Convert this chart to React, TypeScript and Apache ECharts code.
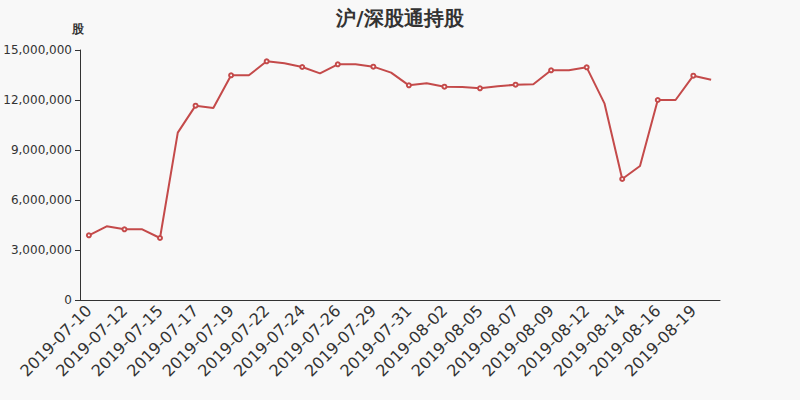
import React, { useEffect, useRef } from "react";
import * as echarts from "echarts";

const categories: string[] = [
  "2019-07-10", "2019-07-11", "2019-07-12", "2019-07-13", "2019-07-15", "2019-07-16",
  "2019-07-17", "2019-07-18", "2019-07-19", "2019-07-20", "2019-07-22", "2019-07-23",
  "2019-07-24", "2019-07-25", "2019-07-26", "2019-07-27", "2019-07-29", "2019-07-30",
  "2019-07-31", "2019-08-01", "2019-08-02", "2019-08-03", "2019-08-05", "2019-08-06",
  "2019-08-07", "2019-08-08", "2019-08-09", "2019-08-10", "2019-08-12", "2019-08-13",
  "2019-08-14", "2019-08-15", "2019-08-16", "2019-08-17", "2019-08-19", "2019-08-20",
];

const holdings: number[] = [
  3880000, 4420000, 4240000, 4240000, 3720000, 10040000,
  11660000, 11520000, 13480000, 13480000, 14320000, 14200000,
  13980000, 13600000, 14140000, 14140000, 14000000, 13640000,
  12880000, 13000000, 12800000, 12780000, 12700000, 12820000,
  12920000, 12940000, 13780000, 13780000, 13960000, 11800000,
  7260000, 8040000, 12000000, 12000000, 13460000, 13220000,
];

const titleText = "沪/深股通持股";
const yName = "股";

export default function App() {
  const ref = useRef<HTMLDivElement>(null);
  useEffect(() => {
    if (!ref.current) return;
    const chart = echarts.init(ref.current, undefined, { renderer: "svg" });
    chart.setOption({
      animation: false,
      backgroundColor: "#f8f8f8",
      textStyle: { fontFamily: "DejaVu Sans, sans-serif" },
      title: {
        text: titleText,
        left: "center",
        top: 3,
        textStyle: { fontSize: 20, fontWeight: "bold", color: "#333" },
      },
      grid: { left: 80, right: 80, top: 50, bottom: 100 },
      xAxis: {
        type: "category",
        data: categories,
        boundaryGap: true,
        axisLine: { lineStyle: { color: "#333" } },
        axisTick: { interval: 1, lineStyle: { color: "#333" } },
        axisLabel: { interval: 1, rotate: 45, fontSize: 16, color: "#333" },
      },
      yAxis: {
        type: "value",
        name: yName,
        min: 0,
        max: 15000000,
        interval: 3000000,
        nameTextStyle: { color: "#333", fontSize: 12, fontWeight: "bold", padding: [0, 4, 0, 0] },
        axisLine: { show: true, lineStyle: { color: "#333" } },
        axisTick: { show: true, lineStyle: { color: "#333" } },
        splitLine: { show: false },
        axisLabel: {
          color: "#333",
          fontSize: 12,
          formatter: (v: number) => v.toLocaleString("en-US"),
        },
      },
      series: [
        {
          type: "line",
          data: holdings,
          symbol: "emptyCircle",
          symbolSize: 4,
          showAllSymbol: false,
          lineStyle: { color: "#c44a4a", width: 2 },
          itemStyle: { color: "#c44a4a", borderWidth: 1 },
        },
      ],
    });
    return () => chart.dispose();
  }, []);
  return (
    <div
      ref={ref}
      style={{ position: "fixed", left: 0, top: 0, width: 800, height: 400 }}
    />
  );
}
